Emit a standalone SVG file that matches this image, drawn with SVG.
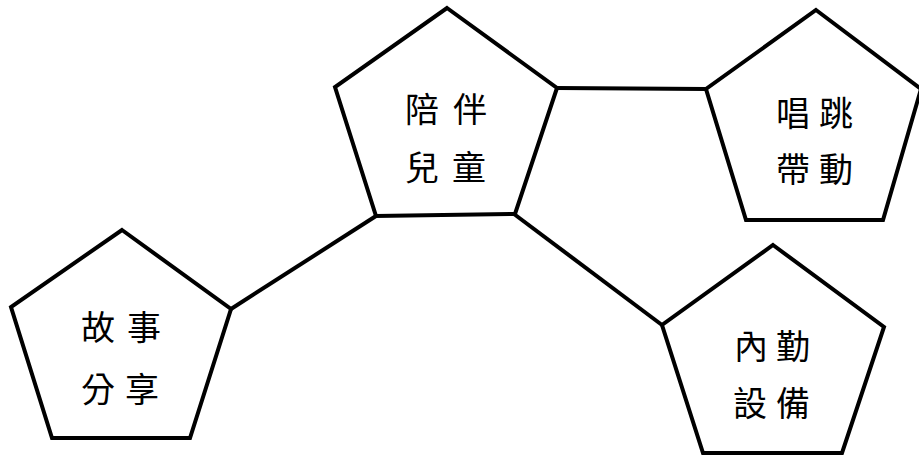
<svg xmlns="http://www.w3.org/2000/svg" width="919" height="457" viewBox="0 0 919 457">
<style>
.shape{fill:#fff;stroke:#000;stroke-width:4;stroke-linejoin:miter}
.conn{stroke:#000;stroke-width:4;fill:none}
.lbl{font-family:"Noto Sans CJK TC","Noto Sans CJK SC",sans-serif;font-size:34px;fill:#000;text-anchor:middle;dominant-baseline:central}
</style>
<rect width="919" height="457" fill="#fff"/>
<g id="connectors">
<line class="conn" x1="557" y1="88" x2="706" y2="89"/>
<line class="conn" x1="231" y1="309" x2="376" y2="216"/>
<line class="conn" x1="514" y1="214" x2="662" y2="325"/>
</g>
<g id="node-peiban">
<polygon class="shape" points="447,8 557,88 515,214 376,216 335,87"/>
<text class="lbl" x="422 470" y="107">陪伴</text>
<text class="lbl" x="422 469" y="165">兒童</text>
</g>
<g id="node-changtiao">
<polygon class="shape" points="816,10 921,89 883,220 746,220 706,89"/>
<text class="lbl" x="793 836" y="111">唱跳</text>
<text class="lbl" x="793 836" y="167">帶動</text>
</g>
<g id="node-gushi">
<polygon class="shape" points="122,230 231,309 190,438 52,438 11,307"/>
<text class="lbl" x="98 144" y="325">故事</text>
<text class="lbl" x="98 142" y="387">分享</text>
</g>
<g id="node-neiqin">
<polygon class="shape" points="773,245 884,327 842,453 703,453 662,325"/>
<text class="lbl" x="751 793" y="344">內勤</text>
<text class="lbl" x="750 793" y="401">設備</text>
</g>
</svg>
